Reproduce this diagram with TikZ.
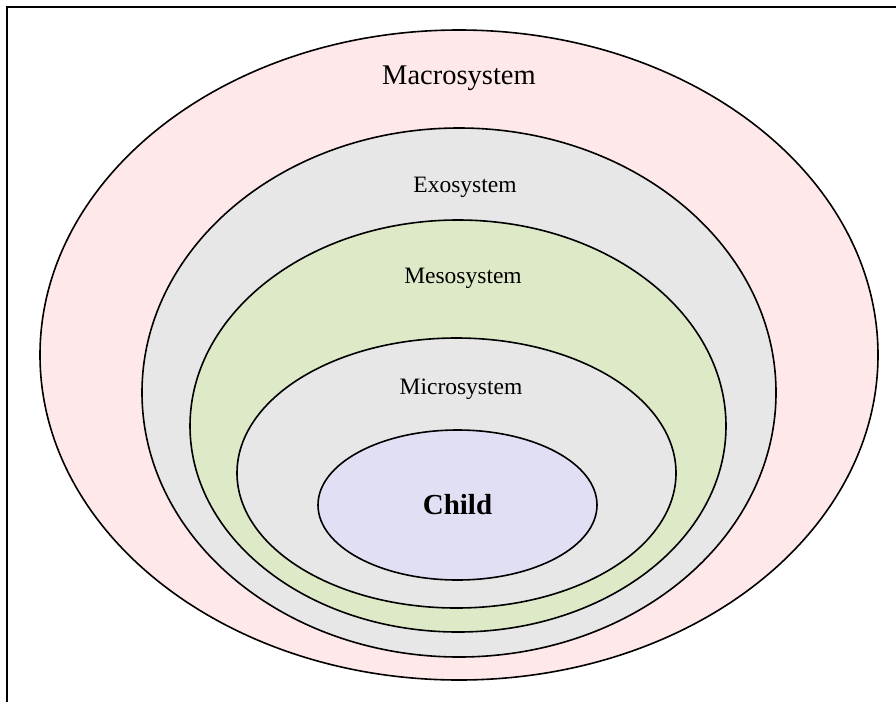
\documentclass[tikz,border=0pt]{standalone}
\usepackage{fontspec}
\setmainfont{Liberation Serif}
\usepackage{xcolor}
\usetikzlibrary{shapes,positioning}

\definecolor{macrofill}{RGB}{255,232,233}
\definecolor{exofill}{RGB}{231,231,231}
\definecolor{mesofill}{RGB}{221,233,199}
\definecolor{microfill}{RGB}{231,231,231}
\definecolor{childfill}{RGB}{225,223,243}

\begin{document}
\begin{tikzpicture}[
    x=1pt, y=-1pt,
    system/.style={ellipse, draw=black, line width=1.6pt, inner sep=0pt, outer sep=0pt},
    label/.style={font=\fontsize{23.5}{26}\selectfont, anchor=center},
]
\useasboundingbox (0,0) rectangle (896,702);

% Frame (top and left only)
\draw[line width=2pt] (896,7) -- (7,7) -- (7,702);

% Layer 1: Macrosystem
\node[system, fill=macrofill, minimum width=838pt, minimum height=650pt] (macro) at (459,355) {};
% Layer 2: Exosystem
\node[system, fill=exofill, minimum width=634pt, minimum height=529pt] (exo) at (459,392.5) {};
% Layer 3: Mesosystem
\node[system, fill=mesofill, minimum width=536pt, minimum height=412pt] (meso) at (458,426) {};
% Layer 4: Microsystem
\node[system, fill=microfill, minimum width=439pt, minimum height=270pt] (micro) at (456.5,473) {};
% Layer 5: Child
\node[system, fill=childfill, minimum width=279pt, minimum height=150pt] (child) at (457.5,505) {};

% Labels
\node[label, font=\fontsize{28.5}{32}\selectfont] (macrolbl) at (459,78) {Macrosystem};
\node[label] (exolbl) at (465,187) {Exosystem};
\node[label] (mesolbl) at (463,278) {Mesosystem};
\node[label] (microlbl) at (461,389) {Microsystem};
\node[font=\fontsize{29}{32}\selectfont\bfseries] (childlbl) at (457.5,505) {Child};

\end{tikzpicture}
\end{document}
